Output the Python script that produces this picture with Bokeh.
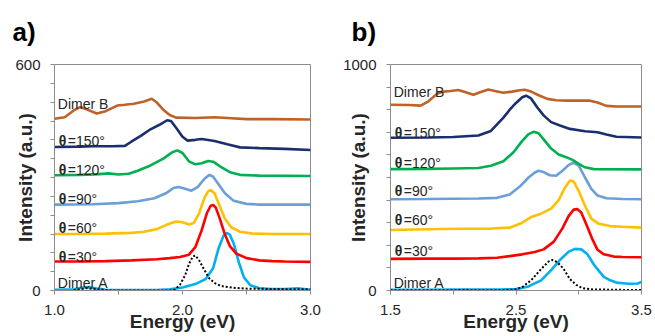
from bokeh.plotting import figure
from bokeh.layouts import row
from bokeh.models import Range1d, FixedTicker
from bokeh.core.properties import value
from bokeh.embed import file_html
from bokeh.resources import INLINE

FONT = "Liberation Sans"

# ---------------- Panel a data ----------------
a_dimerA_x = [1.0, 1.15, 1.22, 1.27, 1.33, 1.4, 1.6, 1.8, 1.9, 2.0, 2.1, 2.18, 2.24, 2.28, 2.32, 2.345, 2.37, 2.40, 2.44, 2.48, 2.53, 2.6, 2.7, 2.8, 2.9, 2.95, 3.0]
a_dimerA_y = [2, 3, 8, 9, 5, 2, 1, 1, 3, 8, 17, 30, 60, 110, 145, 153, 148, 125, 75, 35, 14, 6, 4, 4, 6, 4, 2]
a_mono_x = [1.15, 1.25, 1.35, 1.45, 1.9, 1.94, 1.98, 2.02, 2.05, 2.08, 2.10, 2.13, 2.17, 2.21, 2.25, 2.3, 2.4, 2.5, 2.7, 3.0]
a_mono_y = [1, 6, 3, 0, 0, 3, 15, 40, 70, 90, 93, 80, 55, 32, 20, 12, 7, 5, 4, 3]
a_t30_x = [1.0, 1.2, 1.4, 1.6, 1.8, 1.9, 1.98, 2.05, 2.1, 2.15, 2.19, 2.22, 2.24, 2.26, 2.29, 2.33, 2.37, 2.42, 2.5, 2.6, 2.7, 2.8, 3.0]
a_t30_y = [77, 77, 78, 80, 83, 86, 89, 95, 115, 160, 205, 225, 227, 220, 192, 150, 118, 98, 86, 80, 78, 77, 76]
a_t60_x = [1.0, 1.2, 1.4, 1.6, 1.7, 1.8, 1.88, 1.95, 2.0, 2.05, 2.09, 2.13, 2.17, 2.2, 2.22, 2.25, 2.29, 2.33, 2.38, 2.45, 2.55, 2.7, 3.0]
a_t60_y = [150, 150, 151, 153, 156, 163, 175, 183, 181, 175, 180, 205, 245, 263, 267, 258, 225, 192, 168, 156, 151, 150, 150]
a_t90_x = [1.0, 1.3, 1.5, 1.65, 1.78, 1.87, 1.93, 1.97, 2.02, 2.07, 2.12, 2.17, 2.21, 2.24, 2.28, 2.33, 2.4, 2.5, 2.6, 3.0]
a_t90_y = [228, 229, 232, 237, 245, 258, 272, 275, 270, 265, 275, 296, 307, 302, 283, 259, 238, 230, 228, 228]
a_t120_x = [1.0, 1.2, 1.35, 1.42, 1.5, 1.58, 1.65, 1.75, 1.85, 1.92, 1.96, 2.0, 2.05, 2.1, 2.15, 2.2, 2.24, 2.3, 2.37, 2.45, 2.6, 3.0]
a_t120_y = [306, 307, 309, 311, 308, 310, 318, 332, 350, 367, 372, 365, 343, 335, 338, 344, 342, 328, 314, 307, 305, 304]
a_t150_x = [1.0, 1.2, 1.3, 1.45, 1.55, 1.6, 1.68, 1.75, 1.82, 1.88, 1.91, 1.95, 2.0, 2.04, 2.1, 2.15, 2.25, 2.35, 2.45, 2.6, 2.8, 3.0]
a_t150_y = [381, 382, 383, 383, 384, 395, 412, 428, 440, 452, 450, 432, 408, 398, 400, 402, 397, 388, 380, 378, 376, 373]
a_dimerB_x = [1.0, 1.08, 1.15, 1.2, 1.25, 1.33, 1.4, 1.49, 1.55, 1.62, 1.7, 1.76, 1.8, 1.85, 1.9, 1.95, 2.1, 2.25, 2.35, 2.5, 2.7, 3.0]
a_dimerB_y = [456, 460, 478, 487, 481, 470, 476, 491, 493, 496, 502, 509, 499, 480, 466, 459, 458, 460, 458, 455, 455, 454]

a_label_names = ["Dimer B", "θ=150°", "θ=120°", "θ=90°", "θ=60°", "θ=30°", "Dimer A"]
a_label_y = [496, 398, 321, 244, 167, 90, 21]

# ---------------- Panel b data ----------------
b_dimerA_x = [1.5, 1.8, 2.0, 2.2, 2.4, 2.5, 2.6, 2.7, 2.78, 2.85, 2.92, 2.97, 3.02, 3.07, 3.12, 3.17, 3.2, 3.25, 3.3, 3.4, 3.47, 3.5]
b_dimerA_y = [3, 3, 4, 4, 5, 6, 18, 45, 90, 135, 172, 184, 182, 160, 115, 80, 60, 45, 35, 30, 31, 38]
b_mono_x = [1.5, 2.0, 2.1, 2.15, 2.4, 2.5, 2.55, 2.62, 2.7, 2.76, 2.79, 2.83, 2.88, 2.93, 2.98, 3.03, 3.1, 3.3, 3.5]
b_mono_y = [1, 1, 3, 1, 1, 5, 15, 45, 95, 128, 135, 125, 95, 50, 25, 10, 5, 3, 2]
b_t30_x = [1.5, 1.8, 2.0, 2.2, 2.35, 2.45, 2.55, 2.65, 2.72, 2.8, 2.87, 2.92, 2.96, 2.99, 3.02, 3.07, 3.11, 3.15, 3.2, 3.28, 3.35, 3.5]
b_t30_y = [140, 141, 141, 142, 145, 152, 160, 170, 182, 215, 275, 330, 358, 360, 345, 280, 225, 180, 160, 150, 148, 147]
b_t60_x = [1.5, 1.7, 1.9, 2.1, 2.3, 2.45, 2.55, 2.62, 2.7, 2.78, 2.84, 2.89, 2.93, 2.96, 3.0, 3.05, 3.1, 3.16, 3.25, 3.35, 3.5]
b_t60_y = [268, 270, 272, 273, 274, 278, 300, 325, 340, 362, 400, 455, 487, 482, 440, 375, 318, 295, 285, 282, 278]
b_t90_x = [1.5, 1.8, 2.0, 2.2, 2.35, 2.45, 2.53, 2.6, 2.65, 2.68, 2.72, 2.77, 2.82, 2.87, 2.92, 2.96, 3.0, 3.05, 3.1, 3.15, 3.22, 3.35, 3.5]
b_t90_y = [404, 405, 406, 407, 410, 425, 460, 500, 522, 530, 524, 510, 508, 530, 556, 565, 553, 500, 450, 420, 408, 405, 404]
b_t120_x = [1.5, 1.8, 2.0, 2.2, 2.3, 2.4, 2.48, 2.55, 2.6, 2.64, 2.68, 2.73, 2.78, 2.84, 2.9, 2.95, 3.0, 3.05, 3.12, 3.5]
b_t120_y = [537, 538, 540, 542, 552, 572, 612, 662, 692, 702, 696, 662, 628, 602, 590, 578, 560, 545, 537, 536]
b_t150_x = [1.5, 1.8, 2.0, 2.2, 2.3, 2.4, 2.45, 2.5, 2.55, 2.58, 2.62, 2.67, 2.72, 2.78, 2.85, 2.93, 3.05, 3.15, 3.22, 3.3, 3.5]
b_t150_y = [676, 677, 679, 686, 706, 765, 800, 830, 855, 862, 850, 810, 775, 745, 730, 715, 705, 700, 690, 680, 677]
b_dimerB_x = [1.5, 1.65, 1.74, 1.8, 1.87, 1.92, 1.98, 2.04, 2.1, 2.16, 2.22, 2.28, 2.34, 2.4, 2.47, 2.53, 2.57, 2.62, 2.68, 2.75, 2.82, 2.9, 3.0, 3.09, 3.15, 3.22, 3.3, 3.5]
b_dimerB_y = [822, 821, 818, 836, 870, 880, 883, 887, 877, 866, 878, 889, 882, 875, 880, 886, 888, 880, 864, 848, 842, 840, 840, 840, 832, 817, 814, 814]

b_label_names = ["Dimer B", "θ=150°", "θ=120°", "θ=90°", "θ=60°", "θ=30°", "Dimer A"]
b_label_y = [880, 699, 566, 442, 310, 173, 35]

COLORS = {
    "dimerA": "#00B0F0",
    "t30": "#FF0000",
    "t60": "#FFC000",
    "t90": "#6A9FD8",
    "t120": "#00B050",
    "t150": "#1B2F6E",
    "dimerB": "#BE6228",
}
AXIS_COLOR = "#8C8C8C"
TEXT_COLOR = "#262626"


def make_panel(width, left, right, xr, yr, xticks, xminor, yticks, yminor,
               letter, letter_offset, ylab_standoff):
    p = figure(width=width, height=336, output_backend="svg", toolbar_location=None,
               x_range=Range1d(*xr), y_range=Range1d(*yr),
               min_border_left=left, min_border_right=right,
               min_border_top=64, min_border_bottom=46,
               title=letter)
    p.title.align = "left"
    p.title.vertical_align = "top"
    p.title.offset = letter_offset
    p.title.standoff = 32
    p.title.text_font = FONT
    p.title.text_font_size = "26px"
    p.title.text_font_style = "bold"
    p.title.text_color = "black"
    p.grid.visible = False
    p.outline_line_color = AXIS_COLOR
    p.outline_line_width = 1
    p.background_fill_color = "white"
    p.border_fill_color = "white"
    p.xaxis.ticker = FixedTicker(ticks=xticks, minor_ticks=xminor)
    p.yaxis.ticker = FixedTicker(ticks=yticks, minor_ticks=yminor)
    p.xaxis.major_label_overrides = {t: f"{t:.1f}" for t in xticks}
    for ax in (p.xaxis[0], p.yaxis[0]):
        ax.axis_line_color = AXIS_COLOR
        ax.major_tick_line_color = AXIS_COLOR
        ax.minor_tick_line_color = AXIS_COLOR
        ax.major_tick_in = 0
        ax.major_tick_out = 4
        ax.minor_tick_in = 0
        ax.minor_tick_out = 4
        ax.major_label_text_font = FONT
        ax.major_label_text_font_size = "15px"
        ax.major_label_text_color = TEXT_COLOR
        ax.major_label_standoff = 10
        ax.axis_label_text_font = FONT
        ax.axis_label_text_font_size = "19px"
        ax.axis_label_text_font_style = "bold"
        ax.axis_label_text_color = TEXT_COLOR
    p.xaxis.axis_label = "Energy (eV)"
    p.xaxis.axis_label_standoff = -7
    p.yaxis.axis_label = "Intensity (a.u.)"
    p.yaxis.axis_label_standoff = ylab_standoff
    return p


def add_curves(p, series, mono_x, mono_y):
    for (xs, ys, key) in series:
        p.line(xs, ys, line_color=COLORS[key], line_width=2.6)
    p.line(mono_x, mono_y, line_color="black", line_width=2, line_dash="2 2")


def add_labels(p, x0, names, ys):
    plain_x, plain_y, plain_t = [], [], []
    th_x, th_y, rest_t = [], [], []
    for n, y in zip(names, ys):
        if n.startswith("θ"):
            th_x.append(x0)
            th_y.append(y)
            rest_t.append(n[1:])
        else:
            plain_x.append(x0)
            plain_y.append(y)
            plain_t.append(n)
    p.text(plain_x, plain_y, text=plain_t, text_font=value(FONT), text_font_size="14px",
           text_color=TEXT_COLOR, text_baseline="alphabetic", text_align="left")
    p.text(th_x, th_y, text=["θ"] * len(th_x), text_font=value(FONT), text_font_size="14px",
           text_font_style="bold", text_color=TEXT_COLOR, text_baseline="alphabetic",
           text_align="left", x_offset=1)
    p.text(th_x, th_y, text=rest_t, text_font=value(FONT), text_font_size="14px",
           text_color=TEXT_COLOR, text_baseline="alphabetic", text_align="left", x_offset=10)


# Panel a
pa = make_panel(330, 54, 20, (1.0, 3.0), (0, 600), [1.0, 2.0, 3.0], [1.5, 2.5],
                [0, 600], list(range(50, 600, 50)), "a)", -42, -24)
add_curves(pa, [
    (a_dimerA_x, a_dimerA_y, "dimerA"),
    (a_t30_x, a_t30_y, "t30"),
    (a_t60_x, a_t60_y, "t60"),
    (a_t90_x, a_t90_y, "t90"),
    (a_t120_x, a_t120_y, "t120"),
    (a_t150_x, a_t150_y, "t150"),
    (a_dimerB_x, a_dimerB_y, "dimerB"),
], a_mono_x, a_mono_y)
add_labels(pa, 1.026, a_label_names, a_label_y)

# Panel b
pb = make_panel(325, 60, 14, (1.5, 3.5), (0, 1000), [1.5, 2.5, 3.5], [2.0, 3.0],
                [0, 1000], list(range(100, 1000, 100)), "b)", -39, -29)
add_curves(pb, [
    (b_dimerA_x, b_dimerA_y, "dimerA"),
    (b_t30_x, b_t30_y, "t30"),
    (b_t60_x, b_t60_y, "t60"),
    (b_t90_x, b_t90_y, "t90"),
    (b_t120_x, b_t120_y, "t120"),
    (b_t150_x, b_t150_y, "t150"),
    (b_dimerB_x, b_dimerB_y, "dimerB"),
], b_mono_x, b_mono_y)
add_labels(pb, 1.526, b_label_names, b_label_y)

layout = row(pa, pb, spacing=0)
open("out.html", "w").write(file_html(layout, INLINE))
